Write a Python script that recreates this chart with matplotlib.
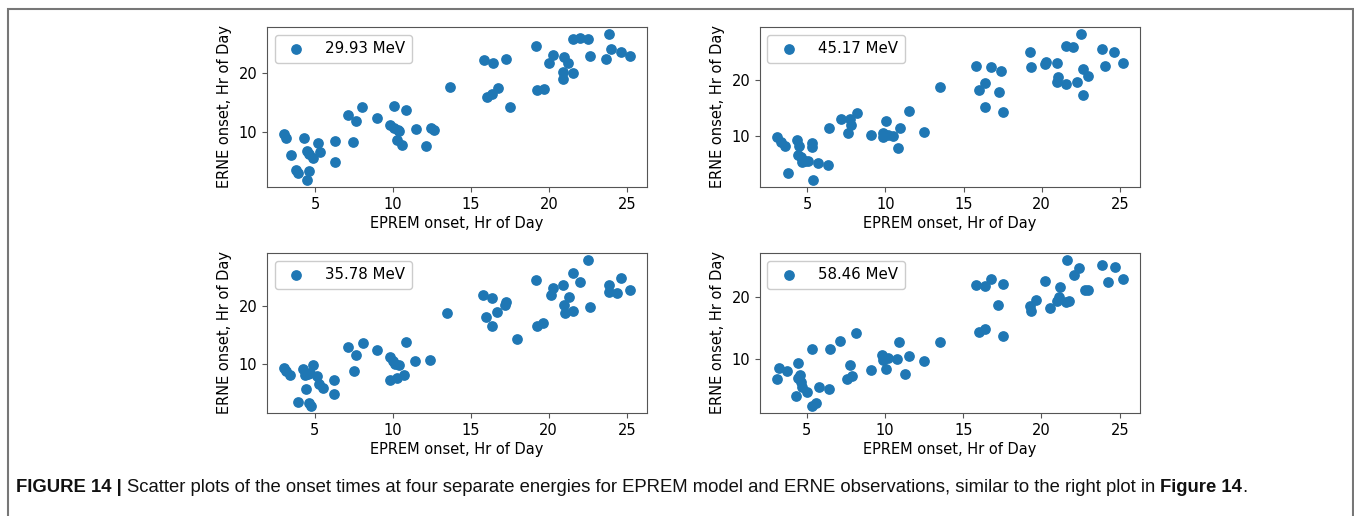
import matplotlib.pyplot as plt
from matplotlib.patches import Rectangle

# EPREM onset (x) vs ERNE onset (y), hours of day, one pair per energy
x_2993 = [3.03, 3.14, 3.46, 3.78, 3.93, 4.27, 4.47, 4.64, 4.85, 4.64, 4.49, 5.17,
          5.34, 6.28, 6.28, 7.12, 7.41, 7.63, 8.03, 9.00, 9.81, 10.04, 10.09, 10.30,
          10.41, 10.26, 10.58, 10.83, 11.47, 12.12, 12.44, 12.61, 13.65, 15.81, 16.39,
          16.03, 16.33, 16.71, 17.24, 17.52, 19.17, 19.27, 19.66, 20.02, 20.24, 20.88,
          20.94, 20.98, 21.24, 21.52, 21.56, 22.01, 22.52, 22.65, 23.65, 23.87, 23.97,
          24.66, 25.19]
y_2993 = [9.60, 9.04, 6.07, 3.43, 3.03, 8.93, 6.69, 6.24, 5.56, 3.26, 1.85, 8.03,
          6.52, 8.48, 4.83, 12.87, 8.20, 11.85, 14.21, 12.30, 11.18, 14.33, 10.62, 10.34,
          10.17, 8.60, 7.75, 13.65, 10.45, 7.53, 10.62, 10.39, 17.64, 22.25, 21.69,
          15.96, 16.52, 17.42, 22.42, 14.27, 24.66, 17.19, 17.36, 21.80, 23.09, 19.04,
          20.28, 22.70, 21.69, 20.00, 25.90, 26.07, 25.90, 22.92, 22.36, 26.63, 24.04,
          23.65, 22.92]

x_4517 = [3.08, 3.29, 3.55, 3.78, 4.32, 4.47, 4.40, 4.57, 4.68, 4.85, 5.04, 5.32,
          5.28, 5.36, 5.68, 6.34, 6.39, 7.13, 7.73, 7.77, 7.62, 8.18, 9.07, 9.86,
          9.86, 10.05, 10.18, 10.48, 10.91, 10.78, 11.52, 12.48, 13.51, 15.83, 16.77,
          17.41, 16.02, 16.36, 17.24, 16.36, 17.52, 19.24, 19.33, 20.20, 20.31, 21.01,
          21.06, 21.01, 21.57, 21.57, 22.01, 22.27, 22.51, 22.63, 22.65, 22.97, 23.87,
          24.04, 24.66, 25.19]
y_4517 = [9.77, 9.00, 8.19, 3.51, 9.36, 8.19, 6.73, 6.26, 5.50, 5.67, 5.67, 8.77,
          8.01, 2.28, 5.20, 4.97, 11.46, 13.04, 12.98, 11.93, 10.64, 14.09, 10.23, 10.64,
          9.82, 12.63, 10.23, 10.06, 11.46, 7.84, 14.44, 10.82, 18.71, 22.46, 22.34,
          21.64, 18.13, 19.42, 17.78, 15.20, 14.33, 24.85, 22.22, 22.81, 23.10, 22.92,
          20.41, 19.53, 19.30, 25.96, 25.85, 19.53, 28.07, 21.87, 17.31, 20.70, 25.44,
          22.46, 24.97, 22.92]

x_3578 = [3.06, 3.16, 3.44, 3.93, 4.25, 4.40, 4.55, 4.68, 4.87, 4.44, 4.62, 4.76,
          5.15, 5.26, 5.53, 6.26, 6.26, 7.12, 7.67, 7.54, 8.10, 8.97, 9.81, 10.02,
          10.13, 10.41, 9.81, 10.28, 10.71, 10.83, 11.45, 12.41, 13.48, 15.79, 16.37,
          16.00, 16.37, 16.69, 17.22, 17.29, 17.97, 19.21, 19.25, 19.64, 20.17, 20.26,
          20.92, 20.96, 21.07, 21.32, 21.54, 21.56, 21.99, 22.50, 22.63, 23.85, 23.89,
          24.38, 24.66, 25.19]
y_3578 = [9.43, 8.86, 8.13, 3.47, 9.26, 8.13, 8.41, 8.52, 9.94, 5.74, 3.30, 2.90,
          8.01, 6.59, 6.02, 7.39, 4.89, 12.95, 11.53, 8.86, 13.64, 12.39, 11.25, 10.51,
          10.11, 9.83, 7.39, 7.73, 8.24, 13.75, 10.57, 10.68, 18.86, 21.88, 21.36,
          18.18, 16.65, 18.92, 20.23, 20.63, 14.26, 24.49, 16.65, 17.16, 21.93, 23.07,
          23.58, 20.17, 18.75, 21.59, 19.15, 25.74, 24.20, 27.84, 19.77, 23.64, 22.33,
          22.16, 24.77, 22.73]

x_5846 = [3.12, 3.25, 3.72, 4.30, 4.47, 4.42, 4.57, 4.62, 4.68, 5.00, 5.32, 5.36,
          5.58, 5.81, 6.43, 6.47, 7.13, 7.56, 7.88, 7.77, 8.16, 9.09, 9.80, 9.86,
          10.07, 10.18, 10.74, 10.91, 11.29, 11.55, 12.48, 13.51, 15.83, 16.36, 16.77,
          17.56, 17.24, 16.02, 16.36, 17.52, 19.24, 19.33, 19.65, 20.25, 20.52, 20.99,
          21.10, 21.16, 21.57, 21.74, 21.63, 22.06, 22.38, 22.76, 22.97, 23.87, 24.23,
          24.68, 25.19]
y_5846 = [6.76, 8.49, 8.00, 3.95, 9.30, 6.86, 7.30, 6.22, 5.41, 4.59, 11.51, 2.32,
          2.81, 5.41, 4.97, 11.62, 12.92, 6.65, 7.14, 9.03, 14.22, 8.22, 10.54, 9.73,
          8.38, 10.16, 9.89, 12.70, 7.57, 10.43, 9.57, 12.70, 22.05, 21.89, 22.97,
          22.16, 18.81, 14.32, 14.76, 13.68, 18.65, 17.84, 19.57, 22.59, 18.27, 19.46,
          20.00, 21.62, 19.19, 19.35, 26.05, 23.62, 24.81, 21.19, 21.19, 25.30, 22.54,
          25.03, 22.97]

panels = [
    ("29.93 MeV", x_2993, y_2993),
    ("45.17 MeV", x_4517, y_4517),
    ("35.78 MeV", x_3578, y_3578),
    ("58.46 MeV", x_5846, y_5846),
]

W, H = 1354, 516
fig = plt.figure(figsize=(W / 100, H / 100), dpi=100)

# axes boxes in pixels: left, top, width, height
boxes = [(267, 27, 380, 160), (760, 27, 380, 160),
         (267, 253, 380, 160), (760, 253, 380, 160)]

for (label, xs, ys), (l, t, w, h) in zip(panels, boxes):
    ax = fig.add_axes([l / W, 1 - (t + h) / H, w / W, h / H])
    ax.scatter(xs, ys, s=45, color="#1f77b4", label=label)
    ax.set_xticks([5, 10, 15, 20, 25])
    ax.set_yticks([10, 20])
    ax.tick_params(labelsize=10.5, length=3.5, color="#555555")
    ax.set_xlabel("EPREM onset, Hr of Day", fontsize=10.5, labelpad=3)
    ax.set_ylabel("ERNE onset, Hr of Day", fontsize=10.5, labelpad=5)
    for sp in ax.spines.values():
        sp.set_color("#555555")
    ax.legend(loc="upper left", fontsize=10.8, handletextpad=0.93,
              borderpad=0.45, framealpha=1, edgecolor="#cccccc")

# page frame around the figure
fig.patches.append(Rectangle((8 / W, -0.05), (1353 - 8) / W, 1 - 9 / H + 0.05,
                             transform=fig.transFigure, fill=False,
                             edgecolor="#777777", lw=1.5))

# caption, pieces placed one after another
renderer = fig.canvas.get_renderer()
cap_y = 1 - 488 / H
pieces = [
    ("FIGURE 14 | ", "bold"),
    ("Scatter plots of the onset times at four separate energies for EPREM "
     "model and ERNE observations, similar to the right plot in ", "normal"),
    ("Figure 14", "bold"),
    (".", "normal"),
]
x_px = 16
for txt, wt in pieces:
    t = fig.text(x_px / W, cap_y, txt, fontsize=13.3, fontweight=wt,
                 family=["Liberation Sans", "DejaVu Sans"], va="center",
                 ha="left", color="#111111")
    x_px += t.get_window_extent(renderer).width

fig.savefig("out.png", dpi=100)
